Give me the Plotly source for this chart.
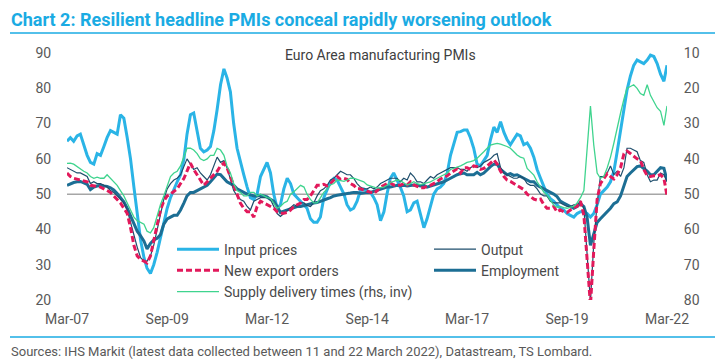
import pandas as pd
import plotly.graph_objects as go

months = pd.date_range("2007-03-01", periods=181, freq="MS")

input_prices = [
    65, 66, 65, 66.5, 67, 64, 61, 59, 58.5, 61.5,
    61, 63.5, 66, 68, 67.5, 67, 72.5, 71.5, 66, 60, 52, 45,
    37, 32, 29, 27.5, 30, 33.5, 37.5, 41, 46, 49, 51.5, 53.5,
    55.5, 60, 67, 72.5, 73, 68, 63, 62, 62.5, 63.5, 68, 74,
    81, 85.5, 83, 79, 70, 63, 59, 55.5, 52, 49, 48.5, 50,
    55, 57, 59, 56, 50, 46, 47, 51.5, 54.5, 53, 50, 49,
    48, 47, 46, 43, 42, 42, 43.5, 49, 51.5, 53.5, 54.5, 54,
    52, 50, 47, 45.5, 46, 48, 51, 51.5, 51, 50.5, 49, 47,
    42.5, 45, 50, 54.5, 56, 54, 52, 49.5, 45, 45.5, 47.5, 48,
    44, 40.5, 43, 46.5, 50, 51.5, 52, 53, 56, 61, 64.5, 67.5,
    67.7, 68.2, 68.2, 66, 63, 58.5, 58, 59.5, 61, 65.4, 69, 67.5,
    70.5, 67.5, 65.5, 64, 65.5, 67, 66.5, 64, 64.5, 63, 60.5, 57,
    54.5, 52, 50, 48.7, 48, 47, 46, 45.5, 44.5, 44, 43.5, 44.5,
    45, 45, 44.5, 43.5, 44.5, 47, 50, 51, 52, 53.5, 56.5, 62,
    68.5, 75, 79.5, 83.5, 86.5, 88, 87.5, 87, 88, 89.4, 89, 87,
    84, 82, 86.5,
]

output = [
    57.5, 57, 56.5, 56, 56, 55.5, 55, 53, 53.5, 53,
    53, 52.5, 52, 51, 50.5, 49.5, 48.5, 47.5, 45.5, 42, 38, 35,
    32, 31, 31, 32.5, 35.5, 40, 45, 48.5, 51.5, 53, 54, 54.5,
    55.5, 58, 60, 58.5, 57, 57.5, 56, 55, 54, 55.5, 58, 60.5,
    59, 59.5, 57.5, 54, 51, 49.5, 48.5, 48, 46.5, 45.5, 48, 48.5,
    49, 49, 49, 48.5, 46.5, 44.5, 43.7, 44.5, 45.5, 46, 47, 46.5,
    47.5, 47.5, 46.8, 46.5, 47.5, 49.5, 51, 51.5, 52.5, 54, 54.5, 55.5,
    56.5, 56, 55.5, 55.5, 54.5, 53, 52, 51.5, 51.5, 52, 51.5, 52,
    53, 53.5, 54, 54.5, 54.5, 54.5, 53.5, 54.5, 54, 56, 55, 53.5,
    53.5, 53, 54, 55, 54.5, 55.5, 56, 56.5, 57, 57.5, 57.5, 57.5,
    57, 57, 56.5, 57.5, 58, 57.5, 58, 59, 59.5, 60, 61, 61.5,
    57.5, 56, 55.5, 55, 54.5, 54.5, 55, 54.5, 53, 52.5, 52.5, 51.5,
    50, 49.5, 49.5, 48, 47.5, 47.5, 47.5, 47, 46.5, 46.5, 47, 47,
    48, 46, 33, 19.5, 36, 47.5, 55, 55, 56, 58, 55.5, 56.5,
    55, 57.5, 63, 63, 62.5, 62, 59.5, 59, 55.5, 53.5, 54, 54,
    56, 55.5, 53.5,
]

employment = [
    52.5, 53, 53.3, 53.5, 53.6, 53.2, 52.8, 51.3, 52, 52.3,
    52.5, 52.3, 52.2, 51.8, 51.2, 50.2, 49, 47.8, 46, 44, 41.5, 39.5,
    38.2, 36.7, 34.5, 36, 37, 37.5, 38.5, 41.5, 43, 43.5, 44, 44,
    45.5, 47.5, 49.5, 50.5, 50.5, 51, 51.5, 52.2, 52.5, 53.5, 54.5, 55.7,
    55.5, 54.5, 53.5, 53, 52.5, 51.5, 51, 50.5, 50, 49.8, 49.5, 49.5,
    49.7, 49.5, 49.2, 48.5, 48, 46.5, 44.8, 45.2, 45.5, 46, 46.2, 46.5,
    46.5, 46.8, 47, 47.3, 47.5, 47.6, 48, 48.5, 48.7, 49, 49.5, 49.7,
    49.8, 50, 50, 50.3, 50.5, 50.5, 50.2, 50.4, 50.5, 50.5, 50.8, 51,
    51.5, 51.7, 52, 52, 52.2, 52.5, 52.3, 52.5, 52.3, 52.5, 52.6, 52.5,
    52.3, 52.5, 52, 52.3, 52.6, 52.8, 53, 53.5, 54, 54.5, 55, 55.5,
    55.8, 56, 55.5, 55.5, 55.5, 56.2, 55.5, 56, 57, 57.8, 58.5, 58.5,
    57, 56.3, 55.5, 55.8, 55.3, 55.5, 55, 54.5, 54, 53.5, 53.5, 52.5,
    52, 51.5, 51, 50.5, 50, 49.3, 48, 47.5, 47, 46.5, 46, 46.5,
    47.3, 46.5, 43.5, 35.5, 38.5, 42, 43, 44, 45, 46, 47.3, 47.8,
    49.5, 52.5, 55, 56, 57, 57.8, 58, 57.3, 56.5, 55.5, 55.5, 56.5,
    57.5, 57.3, 54,
]

new_export_orders = [
    56, 55, 54.5, 54.3, 54, 53.8, 53.5, 52.5, 52.3, 52,
    52, 51.5, 51, 50.5, 49.5, 48.5, 47.5, 46, 44.5, 40.5, 35.5, 32.5,
    31.5, 31, 30.5, 32.5, 36.5, 41, 45.5, 48, 49.5, 50, 50.7, 51.5,
    53, 54.5, 56.5, 58.8, 57, 55.5, 53.8, 52.5, 53.5, 54.5, 55.5, 56.5,
    58, 58.8, 57.5, 55, 52, 49.5, 47.5, 46, 45, 45, 43.5, 46.5,
    48, 47.5, 47, 46.5, 46, 45, 44.6, 44.6, 44.8, 45.5, 46.5, 47,
    47.5, 48.5, 48.5, 49.5, 51, 52.5, 52.5, 52.8, 52.3, 53, 54, 55,
    54.2, 54.5, 54.2, 53, 52.5, 51.5, 51.5, 51.2, 50.8, 50.5, 50.2, 51,
    52, 52.5, 53, 53.2, 52.6, 52.6, 52.5, 53, 52.6, 53.5, 52.6, 52.2,
    51.8, 51.8, 52.3, 52.5, 53, 53.5, 54.3, 54.8, 55.2, 56, 56.5, 57.2,
    56, 57.5, 57.5, 57, 58, 57.8, 57, 57.3, 58, 58.8, 59.7, 58.5,
    56.5, 55, 54, 53.6, 53, 52.5, 52, 51.3, 50, 49.3, 48.6, 48.3,
    48.6, 47, 46, 46, 46.5, 45, 45.5, 45, 44.8, 45.5, 46.3, 46.5,
    48, 44, 32, 18.5, 34, 48.5, 53, 54.5, 55.8, 55, 54.3, 55.5,
    57.5, 61.5, 62.2, 61.5, 60.7, 60, 59.5, 57, 55.2, 55, 55.2, 55.2,
    55.5, 54.5, 49.5,
]

# Suppliers' delivery times index (plotted on the inverted right-hand axis)
supply_delivery_times = [
    41.3, 41.2, 41.5, 42.2, 43, 43.5, 44, 45, 45.5, 45.2,
    45.5, 45.5, 44.5, 45.5, 46.5, 47.5, 49, 50.5, 52.5, 54.5, 56.5, 57.5,
    58, 58.5, 60.5, 61, 59.5, 56, 53, 50.5, 47.5, 45, 44, 43.5,
    42, 39.5, 37, 37, 37.5, 38.5, 40, 40.5, 40, 39, 39, 37,
    37.5, 39, 42, 44, 47, 49, 49.5, 50.5, 50.5, 49.5, 49.5, 50.5,
    50, 50.5, 51, 51.2, 52.5, 54, 53.5, 52.5, 52, 50, 49.3, 48.5,
    47.5, 48, 50, 51.5, 52.5, 52.5, 51, 49.5, 48.5, 47.4, 47, 46,
    46.2, 46.4, 46, 45.5, 45.5, 45.8, 46, 46.5, 47.4, 47.8, 48, 48.3,
    48.2, 48, 47.5, 46.7, 46.4, 46, 46.2, 46.7, 47.4, 47, 46.5, 47,
    47.3, 47, 46.8, 46.5, 46, 45.5, 45, 44.5, 44, 43, 42.7, 42.2,
    42, 41.5, 41, 40.8, 40.5, 39.8, 39, 38, 37, 36.1, 35.8, 35.6,
    35.8, 36.1, 36.5, 37, 38, 38.9, 39.5, 39.8, 42.7, 43.5, 44.6, 46.5,
    48, 49.5, 50.2, 51.6, 53.1, 53.7, 53.5, 53.8, 54, 53.7, 53.5, 52.5,
    51, 49, 38, 25, 36, 44, 45.5, 45, 42.5, 39.5, 35.5, 31,
    27, 23, 20, 19.5, 19, 20, 21.5, 22, 19, 22, 24, 25.5,
    26.5, 30.5, 25,
]

FONT = "Roboto, Arial, sans-serif"
C_INPUT = "#2AB4E6"
C_OUTPUT = "#1E4E6C"
C_EMPLOY = "#1C6E94"
C_EXPORT = "#E2195B"
C_SUPPLY = "#3FD48E"
C_TITLE = "#1AABE3"

fig = go.Figure()

fig.add_trace(go.Scatter(
    x=months, y=supply_delivery_times, name="Supply delivery times (rhs, inv)",
    yaxis="y2", mode="lines", line=dict(color=C_SUPPLY, width=1.3),
    legend="legend", legendrank=3))
fig.add_trace(go.Scatter(
    x=months, y=input_prices, name="Input prices", mode="lines",
    line=dict(color=C_INPUT, width=3), legend="legend", legendrank=1))
fig.add_trace(go.Scatter(
    x=months, y=employment, name="Employment", mode="lines",
    line=dict(color=C_EMPLOY, width=3), legend="legend2", legendrank=2))
fig.add_trace(go.Scatter(
    x=months, y=output, name="Output", mode="lines",
    line=dict(color=C_OUTPUT, width=1.2), legend="legend2", legendrank=1))
fig.add_trace(go.Scatter(
    x=months, y=new_export_orders, name="New export orders", mode="lines",
    line=dict(color=C_EXPORT, width=3, dash="6px,3px"), legend="legend",
    legendrank=2))

tickfont = dict(family=FONT, size=14, color="#595959")
legfont = dict(family=FONT, size=14, color="#4A4A4A")

fig.update_layout(
    width=722, height=364,
    margin=dict(l=67, r=55, t=53, b=64),
    paper_bgcolor="white", plot_bgcolor="white",
    font=dict(family=FONT, size=14, color="#404040"),
    showlegend=True,
    xaxis=dict(
        type="date", range=[months[0], months[-1]],
        tick0="2007-03-01", dtick="M30", tickformat="%b-%y",
        showgrid=False, zeroline=False, showline=False,
        ticks="outside", ticklen=6, tickcolor="rgba(0,0,0,0)",
        tickfont=tickfont),
    yaxis=dict(
        range=[20, 90], dtick=10, showgrid=False, zeroline=False,
        showline=False, ticks="outside", ticklen=12,
        tickcolor="rgba(0,0,0,0)", tickfont=tickfont),
    yaxis2=dict(
        range=[80, 10], dtick=10, overlaying="y", side="right",
        showgrid=False, zeroline=False, showline=False,
        ticks="outside", ticklen=13, tickcolor="rgba(0,0,0,0)",
        tickfont=tickfont),
    legend=dict(
        x=(172 - 67) / 600, y=0.269, xanchor="left", yanchor="top",
        bgcolor="rgba(0,0,0,0)", itemwidth=42, tracegroupgap=0,
        font=legfont),
    legend2=dict(
        x=(429 - 67) / 600, y=0.269, xanchor="left", yanchor="top",
        bgcolor="rgba(0,0,0,0)", itemwidth=42, tracegroupgap=0,
        font=legfont),
    shapes=[
        dict(type="line", xref="paper", yref="y", x0=0, x1=1, y0=50, y1=50,
             line=dict(color="#A6A6A6", width=1.5), layer="below"),
        dict(type="line", xref="paper", yref="paper", x0=-0.095, x1=1.08,
             y0=1.081, y1=1.081, line=dict(color=C_TITLE, width=1.5)),
        dict(type="line", xref="paper", yref="paper", x0=-0.095, x1=1.08,
             y0=-0.150, y1=-0.150, line=dict(color=C_TITLE, width=1.5)),
    ],
    annotations=[
        dict(text="<b>Chart 2: Resilient headline PMIs conceal rapidly worsening outlook</b>",
             xref="paper", yref="paper", x=-0.097, y=1.134,
             xanchor="left", yanchor="middle", showarrow=False,
             font=dict(family=FONT, size=18, color=C_TITLE)),
        dict(text="Euro Area manufacturing PMIs",
             xref="paper", yref="paper", x=0.522, y=0.992,
             xanchor="center", yanchor="middle", showarrow=False,
             font=dict(family=FONT, size=14, color="#404040")),
        dict(text="Sources: IHS Markit (latest data collected between 11 and 22 March 2022), Datastream, TS Lombard.",
             xref="paper", yref="paper", x=-0.097, y=-0.2105,
             xanchor="left", yanchor="middle", showarrow=False,
             font=dict(family=FONT, size=13, color="#595959")),
    ],
)

fig.write_html("out.html", config={"displayModeBar": False},
               post_script="document.body.style.margin='0';")
